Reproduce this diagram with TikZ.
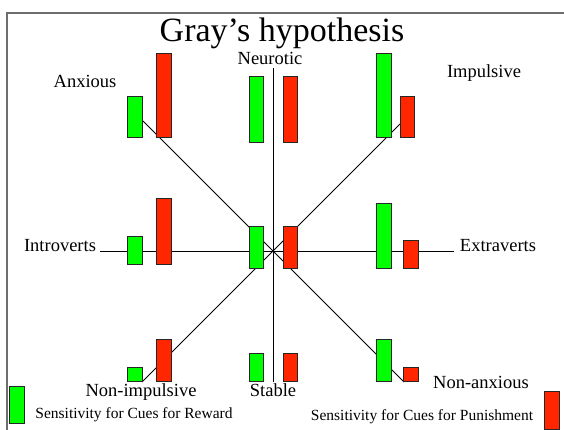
\documentclass[tikz,border=0pt]{standalone}
\usepackage{fontspec}
\setmainfont{Liberation Serif}
\usepackage{xcolor}
\usepackage{tikz}
\definecolor{vivoverde}{RGB}{0,255,0}
\definecolor{vivorojo}{RGB}{255,38,0}
\definecolor{marco}{RGB}{110,110,110}

\begin{document}
\begin{tikzpicture}[x=1pt,y=-1pt,
  barra/.style={draw=black!85,line width=0.7pt,minimum width=14.5pt,inner sep=0pt,anchor=south},
  verde/.style={barra,fill=vivoverde},
  rojo/.style={barra,fill=vivorojo},
  eje/.style={line width=0.8pt},
  etiq/.style={anchor=base,font=\fontsize{18.5}{20}\selectfont},
  leyenda/.style={anchor=base,font=\fontsize{15.5}{17}\selectfont}
]
  \useasboundingbox (0,0) rectangle (564,430);
  \draw[marco,line width=1.2pt] (7,430) -- (7,13) -- (564,13);

  % lines behind the bars
  \coordinate (centro) at (273,251);
  \coordinate (vsup) at (273,68);
  \coordinate (vinf) at (273,382);
  \coordinate (hizq) at (100,251);
  \coordinate (hder) at (454,251);
  \coordinate (d1a) at (143,121);
  \coordinate (d1b) at (404,382);
  \coordinate (d2a) at (400,124);
  \coordinate (d2b) at (142,382);
  \draw[eje] (vsup) -- (vinf) (hizq) -- (hder);
  \draw[eje] (d1a) -- (centro) -- (d1b);
  \draw[eje] (d2a) -- (centro) -- (d2b);

  % top row
  \node[verde,minimum height=41pt] (anxV) at (135,138) {};
  \node[rojo,minimum height=84pt]  (anxR) at (164,138) {};
  \node[verde,minimum height=66pt] (neuV) at (256.5,143) {};
  \node[rojo,minimum height=66pt]  (neuR) at (290.5,143) {};
  \node[verde,minimum height=84pt] (impV) at (384,138) {};
  \node[rojo,minimum height=41pt]  (impR) at (407.5,138) {};
  % middle row
  \node[verde,minimum height=28pt] (intV) at (135,265) {};
  \node[rojo,minimum height=66pt]  (intR) at (164,265) {};
  \node[verde,minimum height=42pt] (cenV) at (256.5,269) {};
  \node[rojo,minimum height=42pt]  (cenR) at (290.5,269) {};
  \node[verde,minimum height=65pt] (extV) at (384,269) {};
  \node[rojo,minimum height=28pt]  (extR) at (411,269) {};
  % bottom row
  \node[verde,minimum height=14pt] (nimV) at (135,382) {};
  \node[rojo,minimum height=42pt]  (nimR) at (164,382) {};
  \node[verde,minimum height=28pt] (estV) at (256.5,382) {};
  \node[rojo,minimum height=28pt]  (estR) at (290.5,382) {};
  \node[verde,minimum height=42pt] (naxV) at (384,382) {};
  \node[rojo,minimum height=14pt]  (naxR) at (411,382) {};

  % labels
  \node[anchor=base,font=\fontsize{34}{36}\selectfont] (titulo) at (282,42) {Gray’s hypothesis};
  \node[etiq] (anxioso) at (85,88) {Anxious};
  \node[etiq] (neurotico) at (270,65) {Neurotic};
  \node[etiq] (impulsivo) at (484,78) {Impulsive};
  \node[etiq] (intro) at (60,251) {Introverts};
  \node[etiq] (extra) at (498,251) {Extraverts};
  \node[etiq] (noimp) at (141,396) {Non-impulsive};
  \node[etiq] (estable) at (273,396) {Stable};
  \node[etiq] (noanx) at (481,388) {Non-anxious};

  % legend
  \node[verde,minimum height=37pt] (leyV) at (17,424) {};
  \node[rojo,minimum height=38pt]  (leyR) at (552,430) {};
  \node[leyenda] (txtV) at (134,418) {Sensitivity for Cues for Reward};
  \node[leyenda] (txtR) at (422,420) {Sensitivity for Cues for Punishment};
\end{tikzpicture}
\end{document}
